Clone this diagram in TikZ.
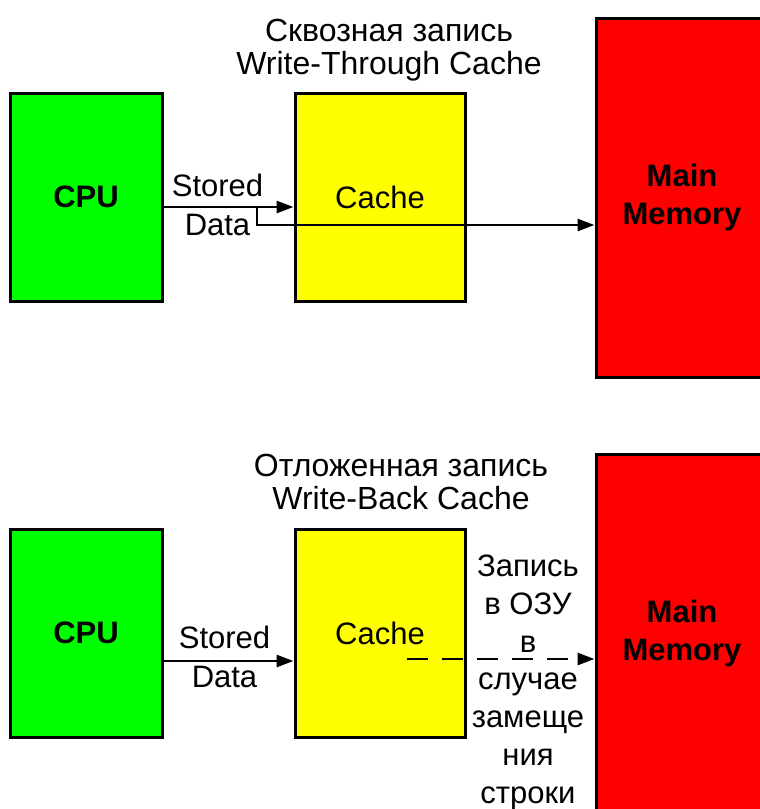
\documentclass[tikz,border=0pt]{standalone}
\usepackage{fontspec}
\setmainfont{Liberation Sans}
\usetikzlibrary{positioning}
\usetikzlibrary{arrows.meta}
\definecolor{cpugreen}{RGB}{0,255,0}
\definecolor{cacheyellow}{RGB}{255,255,0}
\definecolor{memred}{RGB}{255,0,0}
\tikzstyle{unit}=[rectangle,draw=black,line width=3pt,inner sep=0pt,align=center,font=\fontsize{31}{38}\selectfont]
\tikzstyle{caption}=[align=center,inner sep=0pt,font=\fontsize{32}{33}\selectfont]
\tikzstyle{tag}=[align=center,inner sep=0pt,font=\fontsize{31}{39}\selectfont]
\tikzstyle{wire}=[line width=2.8pt,-{Triangle[length=17pt,width=12pt]}]

\begin{document}
\begin{tikzpicture}[x=1pt,y=-1pt]

  \path[use as bounding box,clip] (0,0) rectangle (760,809);

  % the same three blocks in both schemes, the second one 436 lower
  \foreach \s/\dy in {A/0,B/436}
    \foreach \name/\x/\y/\w/\h/\col/\label in {
        cpu/86/197/152/208/cpugreen/\textbf{CPU},
        cache/380/197/170/208/cacheyellow/Cache,
        mem/682/197.5/172/359/memred/\textbf{Main}\\\textbf{Memory}}
      \node[unit,fill=\col,minimum width=\w pt,minimum height=\h pt] (\name\s) at (\x,\y+\dy) {\label};

  % write-through
  \node[caption,anchor=north] (titleA) at (389,19) {Сквозная запись\\Write-Through Cache};
  \draw[wire] ([yshift=-10pt]cpuA.east) -- node[tag,xshift=-11pt,yshift=2.5pt] (dataA) {Stored\\Data} ([yshift=-10pt]cacheA.west);
  \coordinate (tapA) at (257,207);
  \draw[wire] (tapA) |- ([yshift=-27.5pt]memA.west);

  % write-back
  \node[caption,anchor=north] (titleB) at (401,454) {Отложенная запись\\Write-Back Cache};
  \draw[wire] ([yshift=-28pt]cpuB.east) -- node[tag,xshift=-4pt,yshift=4pt] (dataB) {Stored\\Data} ([yshift=-28pt]cacheB.west);
  \coordinate (dropB) at (407,659);
  \draw[wire,dash pattern=on 21pt off 14pt] (dropB) -- ([yshift=-25.5pt]memB.west);
  \node[tag,anchor=north,font=\fontsize{31}{37.7}\selectfont] (noteB) at (528,555) {Запись\\в ОЗУ\\в\\случае\\замеще\\ния\\строки};

\end{tikzpicture}
\end{document}
